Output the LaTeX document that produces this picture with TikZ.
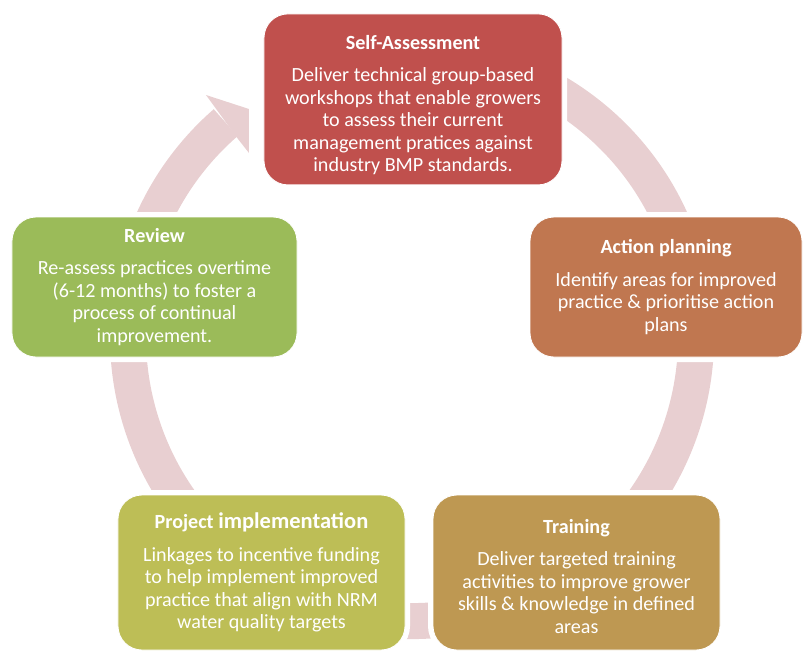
\documentclass[tikz,border=0pt]{standalone}
\usepackage{fontspec}
\setmainfont{Carlito}
\definecolor{selfred}{RGB}{192, 80, 77}
\definecolor{planbrown}{RGB}{192, 119, 80}
\definecolor{trainochre}{RGB}{190, 152, 82}
\definecolor{projolive}{RGB}{189, 190, 86}
\definecolor{reviewgreen}{RGB}{155, 187, 89}
\definecolor{ringpink}{RGB}{232, 207, 209}
\usepackage{tikz}
\usetikzlibrary{positioning, calc}

\tikzset{
  stagebox/.style={fill=#1, draw=white, line width=0.6pt, rounded corners=0.6cm,
    preaction={draw=white, line width=0.25cm},
    text=white, align=center, inner sep=4pt,
    font=\fontsize{14.3}{16}\selectfont},
  ringband/.style={draw=ringpink, line width=0.9cm}
}

\begin{document}
\begin{tikzpicture}
  \useasboundingbox (-10.3, -7.875) rectangle (9.775, 8.425);

  % cycle ring with arrow head
  \draw[ringband] (105:7.1) arc[start angle=105, end angle=-229, radius=7.1];
  \fill[ringpink] (-5.15, 6.05) -- (-4.075, 5.7) -- (-4.075, 4.6) -- (-4.35, 4.95) -- cycle;

  % Self-Assessment
  \node[stagebox=selfred, minimum width=7.45cm, minimum height=4.275cm] (selfassess) at (0.025, 5.94) {
    \rule{0pt}{18.5pt}\textbf{Self-Assessment}\\[7pt]
    Deliver technical group-based\\
    workshops that enable growers\\
    to assess their current\\
    management pratices against\\
    industry BMP standards.
  };

  % Action planning
  \node[stagebox=planbrown, minimum width=6.8cm, minimum height=3.5cm] (actionplan) at (6.35, 1.25) {
    \textbf{Action planning}\\[7pt]
    Identify areas for improved\\
    practice \& prioritise action\\
    plans
  };

  % Training
  \node[stagebox=trainochre, minimum width=7.175cm, minimum height=3.875cm] (training) at (4.1125, -5.8875) {
    \rule{0pt}{15.5pt}\textbf{Training}\\[7pt]
    Deliver targeted training\\
    activities to improve grower\\
    skills \& knowledge in defined\\
    areas
  };

  % Project implementation
  \node[stagebox=projolive, minimum width=7.175cm, minimum height=3.875cm] (projimpl) at (-3.7625, -5.8875) {
    \textbf{Project {\fontsize{16}{16}\selectfont implementation}}\\[7pt]
    Linkages to incentive funding\\
    to help implement improved\\
    practice that align with NRM\\
    water quality targets
  };

  % Review
  \node[stagebox=reviewgreen, minimum width=7.125cm, minimum height=3.5cm] (review) at (-6.4375, 1.25) {
    \textbf{Review}\\[7pt]
    Re-assess practices overtime\\
    (6-12 months) to foster a\\
    process of continual\\
    improvement.
  };
\end{tikzpicture}
\end{document}
